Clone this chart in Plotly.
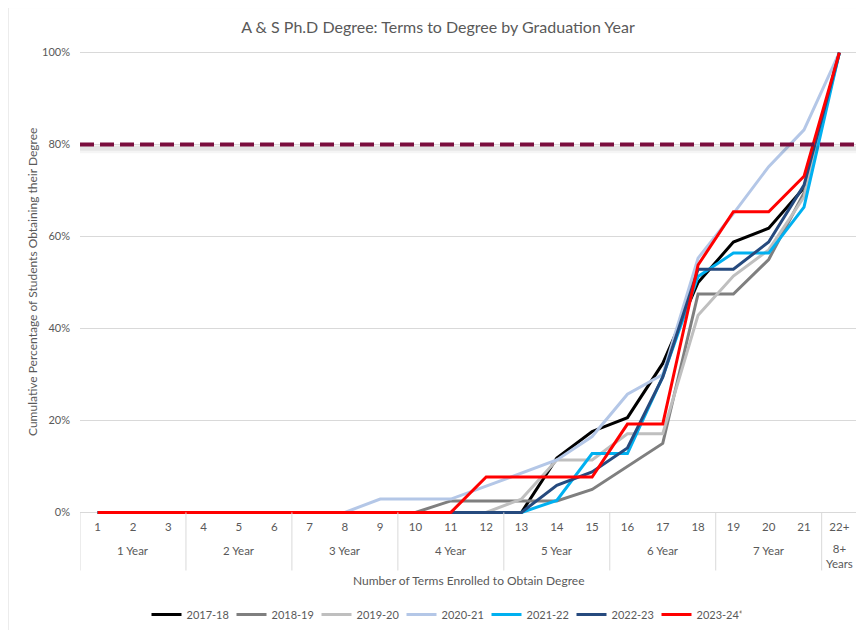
import plotly.graph_objects as go

# ---------------- data ----------------
terms = ["1", "2", "3", "4", "5", "6", "7", "8", "9", "10", "11",
         "12", "13", "14", "15", "16", "17", "18", "19", "20", "21", "22+"]
group_labels = ["1 Year", "2 Year", "3 Year", "4 Year", "5 Year", "6 Year", "7 Year", "8+<br>Years"]
group_sizes = [3, 3, 3, 3, 3, 3, 3, 1]

y_2017_18 = [0, 0, 0, 0, 0, 0, 0, 0, 0, 0, 0, 0, 0, 11.8, 17.6, 20.6, 32.4, 50.0, 58.8, 61.8, 70.6, 100]
y_2018_19 = [0, 0, 0, 0, 0, 0, 0, 0, 0, 0, 2.5, 2.5, 2.5, 2.5, 5.0, 10.0, 15.0, 47.5, 47.5, 55.0, 69.5, 100]
y_2019_20 = [0, 0, 0, 0, 0, 0, 0, 0, 0, 0, 0, 0, 2.9, 11.4, 11.4, 17.1, 17.1, 42.9, 51.4, 57.1, 68.6, 100]
y_2020_21 = [0, 0, 0, 0, 0, 0, 0, 0, 2.9, 2.9, 2.9, 5.7, 8.6, 11.4, 16.5, 25.7, 30.0, 55.3, 65.0, 75.2, 83.2, 100]
y_2021_22 = [0, 0, 0, 0, 0, 0, 0, 0, 0, 0, 0, 0, 0, 2.6, 12.8, 12.8, 29.5, 51.3, 56.4, 56.4, 66.4, 100]
y_2022_23 = [0, 0, 0, 0, 0, 0, 0, 0, 0, 0, 0, 0, 0, 5.9, 8.8, 14.0, 29.4, 52.9, 52.9, 58.8, 71.2, 100]
y_2023_24 = [0, 0, 0, 0, 0, 0, 0, 0, 0, 0, 0, 7.7, 7.7, 7.7, 7.7, 19.2, 19.2, 53.8, 65.4, 65.4, 73.1, 100]

series_names = ["2017-18", "2018-19", "2019-20", "2020-21", "2021-22", "2022-23", "2023-24*"]
series_values = [y_2017_18, y_2018_19, y_2019_20, y_2020_21, y_2021_22, y_2022_23, y_2023_24]
series_colors = ["#000000", "#7F7F7F", "#BFBFBF", "#B4C7E7", "#00B0F0", "#264A7E", "#FF0000"]

target_value = 80
y_ticks = [0, 20, 40, 60, 80, 100]

# ---------------- layout geometry ----------------
OFF = 8                      # page body margin in the browser
W, H = 864 - OFF, 630 - OFF

def P(v):                    # reference pixel -> figure pixel
    return v - OFF

pad = 0.35
px_per_unit = 459 / 100.0
plot_left, plot_right = P(80), P(857)
plot_top = P(53) - pad * px_per_unit
plot_bot = P(512) + pad * px_per_unit
L, R = plot_left, W - plot_right
T, B = plot_top, H - plot_bot
dom_h = plot_bot - plot_top
dom_w = plot_right - plot_left

def xp(px):
    return (P(px) - plot_left) / dom_w

def yp(py):
    return (plot_bot - P(py)) / dom_h

FONT = "Lato, sans-serif"
GRAY = "#595959"
LINEC = "#D9D9D9"

fig = go.Figure()
for name, vals, col in zip(series_names, series_values, series_colors):
    fig.add_trace(go.Scatter(
        x=terms, y=vals, name=name, mode="lines",
        line=dict(color=col, width=3),
    ))

# soft shadow + dashed target line
for off, wdt, alpha in [(1.0, 8, 0.04), (0.8, 5, 0.06)]:
    fig.add_shape(type="line", xref="paper", yref="y",
                  x0=xp(80), x1=xp(864), y0=target_value - off, y1=target_value - off,
                  line=dict(color=f"rgba(0,0,0,{alpha})", width=wdt), layer="above")
fig.add_shape(type="line", xref="paper", yref="y",
              x0=xp(80), x1=xp(864), y0=target_value, y1=target_value,
              line=dict(color="#7B0E3E", width=4, dash="14px,6px"), layer="above")

# category group dividers and labels
start = 0
bounds = [-0.5]
for lab, n in zip(group_labels, group_sizes):
    centre = start + (n - 1) / 2.0
    two_line = "<br>" in lab
    fig.add_annotation(x=centre, xref="x", y=yp(556 if two_line else 550), yref="paper",
                       text=lab, showarrow=False, xanchor="center", yanchor="middle",
                       font=dict(size=11.5, color=GRAY, family=FONT))
    start += n
    bounds.append(start - 0.5)
for b in bounds:
    fig.add_shape(type="line", xref="x", yref="paper", x0=b, x1=b,
                  y0=yp(512), y1=yp(570), line=dict(color=LINEC, width=1))

# axis titles
fig.add_annotation(x=xp(468), xref="paper", y=yp(580), yref="paper",
                   text="Number of Terms Enrolled to Obtain Degree", showarrow=False,
                   xanchor="center", yanchor="middle",
                   font=dict(size=12, color=GRAY, family=FONT))
fig.add_annotation(x=xp(33), xref="paper", y=yp(282), yref="paper",
                   text="Cumulative Percentage of Students Obtaining their Degree",
                   showarrow=False, textangle=-90, xanchor="center", yanchor="middle",
                   font=dict(size=12, color=GRAY, family=FONT))

# chart-area border
fig.add_shape(type="rect", xref="paper", yref="paper",
              x0=xp(8), x1=xp(880), y0=yp(650), y1=yp(8),
              line=dict(color=LINEC, width=1), fillcolor="rgba(0,0,0,0)", layer="below")

fig.update_layout(
    width=W, height=H,
    margin=dict(l=L, r=R, t=T, b=B, autoexpand=False),
    paper_bgcolor="white", plot_bgcolor="white",
    font=dict(family=FONT, color=GRAY, size=12),
    title=dict(text="A & S Ph.D Degree: Terms to Degree by Graduation Year",
               xref="container", x=P(438) / W, xanchor="center",
               yref="container", y=1 - P(27) / H, yanchor="middle",
               automargin=False,
               font=dict(size=16, color=GRAY, family=FONT)),
    showlegend=True,
    legend=dict(orientation="h", x=xp(444), xanchor="center",
                y=yp(614), yanchor="middle",
                font=dict(size=11, color=GRAY, family=FONT),
                itemwidth=30, entrywidth=40, entrywidthmode="pixels", tracegroupgap=0),
    xaxis=dict(
        type="category",
        automargin=False,
        range=[-0.5, 21.5],
        showgrid=False, showline=False, zeroline=False,
        tickfont=dict(size=11.5, color=GRAY, family=FONT),
        ticks="", ticklabelstandoff=4,
    ),
    yaxis=dict(
        automargin=False,
        range=[-pad, 100 + pad],
        tickvals=y_ticks, ticktext=[f"{v}%" for v in y_ticks],
        showgrid=True, gridcolor=LINEC, gridwidth=1,
        zeroline=True, zerolinecolor=LINEC, zerolinewidth=1,
        showline=False,
        tickfont=dict(size=11, color=GRAY, family=FONT),
        ticks="", ticklabelstandoff=9,
    ),
)

fig.write_html("out.html")
